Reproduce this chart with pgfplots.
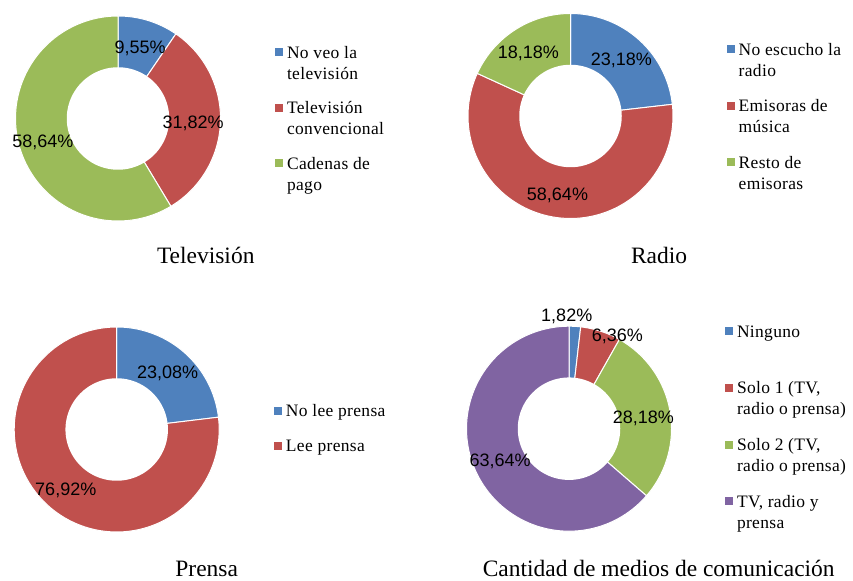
\documentclass[border=0pt]{standalone}
\usepackage{fontspec}
\setmainfont{Liberation Serif}
\newfontfamily\lblfont{Liberation Sans}
\newfontfamily\legfont[LetterSpace=2]{Liberation Serif}
\usepackage{pgfplots}
\pgfplotsset{compat=1.18}
\definecolor{cB}{HTML}{4F81BD}
\definecolor{cR}{HTML}{C0504D}
\definecolor{cG}{HTML}{9BBB59}
\definecolor{cP}{HTML}{8064A2}
% sector: start percentage, value percentage, colour (clockwise from 12 o'clock)
\newcommand{\sector}[3]{\addplot[fill=#3, draw=white, line width=0.75pt, domain=90-3.6*(#1+#2):90-3.6*(#1), samples=90, variable=\t, forget plot] ({cos(\t)},{sin(\t)}) -- (axis cs:0,0) -- cycle;}
\newcommand{\hole}{\addplot[fill=white, draw=none, domain=0:360, samples=120, variable=\t, forget plot] ({0.5*cos(\t)},{0.5*sin(\t)}) -- cycle;}
\newcommand{\lgtwo}[2]{\begin{tabular}[t]{@{}l@{}}#1\\#2\end{tabular}}
\newcommand{\lgone}[1]{\begin{tabular}[t]{@{}l@{}}#1\end{tabular}}
\newcommand{\lbl}{\lblfont\fontsize{13.5}{15}\selectfont}
\newcommand{\ttl}{\fontsize{17.6}{20}\selectfont}
\pgfplotsset{donut/.style={hide axis, scale only axis, width=153.75pt, height=153.75pt,
  xmin=-1, xmax=1, ymin=-1, ymax=1, clip=false, anchor=center,
  legend image code/.code={\fill[##1] (0pt,1.5pt) rectangle (6pt,7.5pt);
     \path[draw=none, fill=none] (0pt,-20.5pt) rectangle (0pt,11pt);},
  legend style={draw=none, fill=none, inner sep=0pt, outer sep=0pt, anchor=north west,
    font=\legfont\fontsize{13.1}{15.75}\selectfont, column sep=3pt,
    nodes={inner sep=0pt}, cells={anchor=base west}},
},
oneline/.style={
  legend image code/.code={\fill[##1] (0pt,1.5pt) rectangle (6pt,7.5pt);
     \path[draw=none, fill=none] (0pt,-4.75pt) rectangle (0pt,11pt);}}
}
\begin{document}
\begin{tikzpicture}
\useasboundingbox (0,0) rectangle (639.75pt,435.75pt);
% Television
\begin{axis}[donut, at={(88.5pt,346.875pt)},
  legend style={at={(axis description cs:1.266,0.865)}, row sep=10pt}]
\sector{0}{9.55}{cB}
\sector{9.55}{31.82}{cR}
\sector{41.37}{58.64}{cG}
\hole
\addlegendimage{fill=cB, draw=none}\addlegendentry{\lgtwo{No veo la}{televisión}}
\addlegendimage{fill=cR, draw=none}\addlegendentry{\lgtwo{Televisión}{convencional}}
\addlegendimage{fill=cG, draw=none}\addlegendentry{\lgtwo{Cadenas de}{pago}}
\node[font=\lbl] at (axis cs:0.215,0.688) {9,55\%};
\node[font=\lbl] at (axis cs:0.732,-0.044) {31,82\%};
\node[font=\lbl] at (axis cs:-0.732,-0.229) {58,64\%};
\node[font=\ttl, anchor=base] at (axis description cs:0.928,-0.206) {Televisión};
\end{axis}
% Radio
\begin{axis}[donut, at={(427.875pt,348.75pt)},
  legend style={at={(axis description cs:1.262,0.869)}, row sep=11pt}]
\sector{0}{23.18}{cB}
\sector{23.18}{58.64}{cR}
\sector{81.82}{18.18}{cG}
\hole
\addlegendimage{fill=cB, draw=none}\addlegendentry{\lgtwo{No escucho la}{radio}}
\addlegendimage{fill=cR, draw=none}\addlegendentry{\lgtwo{Emisoras de}{música}}
\addlegendimage{fill=cG, draw=none}\addlegendentry{\lgtwo{Resto de}{emisoras}}
\node[font=\lbl] at (axis cs:-0.412,0.612) {18,18\%};
\node[font=\lbl] at (axis cs:0.496,0.546) {23,18\%};
\node[font=\lbl] at (axis cs:-0.127,-0.771) {58,64\%};
\node[font=\ttl, anchor=base] at (axis description cs:0.932,-0.219) {Radio};
\end{axis}
% Prensa
\begin{axis}[donut, oneline, at={(87.525pt,113.625pt)},
  legend style={at={(axis description cs:1.267,0.634)}, row sep=10.5pt}]
\sector{0}{23.08}{cB}
\sector{23.08}{76.92}{cR}
\hole
\addlegendimage{fill=cB, draw=none}\addlegendentry{\lgone{No lee prensa}}
\addlegendimage{fill=cR, draw=none}\addlegendentry{\lgone{Lee prensa}}
\node[font=\lbl] at (axis cs:0.496,0.548) {23,08\%};
\node[font=\lbl] at (axis cs:-0.497,-0.590) {76,92\%};
\node[font=\ttl, anchor=base] at (axis description cs:0.939,-0.217) {Prensa};
\end{axis}
% Cantidad
\begin{axis}[donut, at={(426.75pt,114.225pt)},
  legend style={at={(axis description cs:1.261,1.018)}, row sep=11pt}]
\sector{0}{1.82}{cB}
\sector{1.82}{6.36}{cR}
\sector{8.18}{28.18}{cG}
\sector{36.36}{63.64}{cP}
\hole
\addlegendimage{fill=cB, draw=none}\addlegendentry{\lgtwo{Ninguno}{}}
\addlegendimage{fill=cR, draw=none}\addlegendentry{\lgtwo{Solo 1 (TV,}{radio o prensa)}}
\addlegendimage{fill=cG, draw=none}\addlegendentry{\lgtwo{Solo 2 (TV,}{radio o prensa)}}
\addlegendimage{fill=cP, draw=none}\addlegendentry{\lgtwo{TV, radio y}{prensa}}
\node[font=\lbl] at (axis cs:-0.022,1.093) {1,82\%};
\node[font=\lbl] at (axis cs:0.473,0.898) {6,36\%};
\node[font=\lbl] at (axis cs:0.725,0.101) {28,18\%};
\node[font=\lbl] at (axis cs:-0.673,-0.322) {63,64\%};
\node[font=\ttl, anchor=base] at (axis description cs:0.9376,-0.22) {Cantidad de medios de comunicación};
\end{axis}
\end{tikzpicture}
\end{document}
